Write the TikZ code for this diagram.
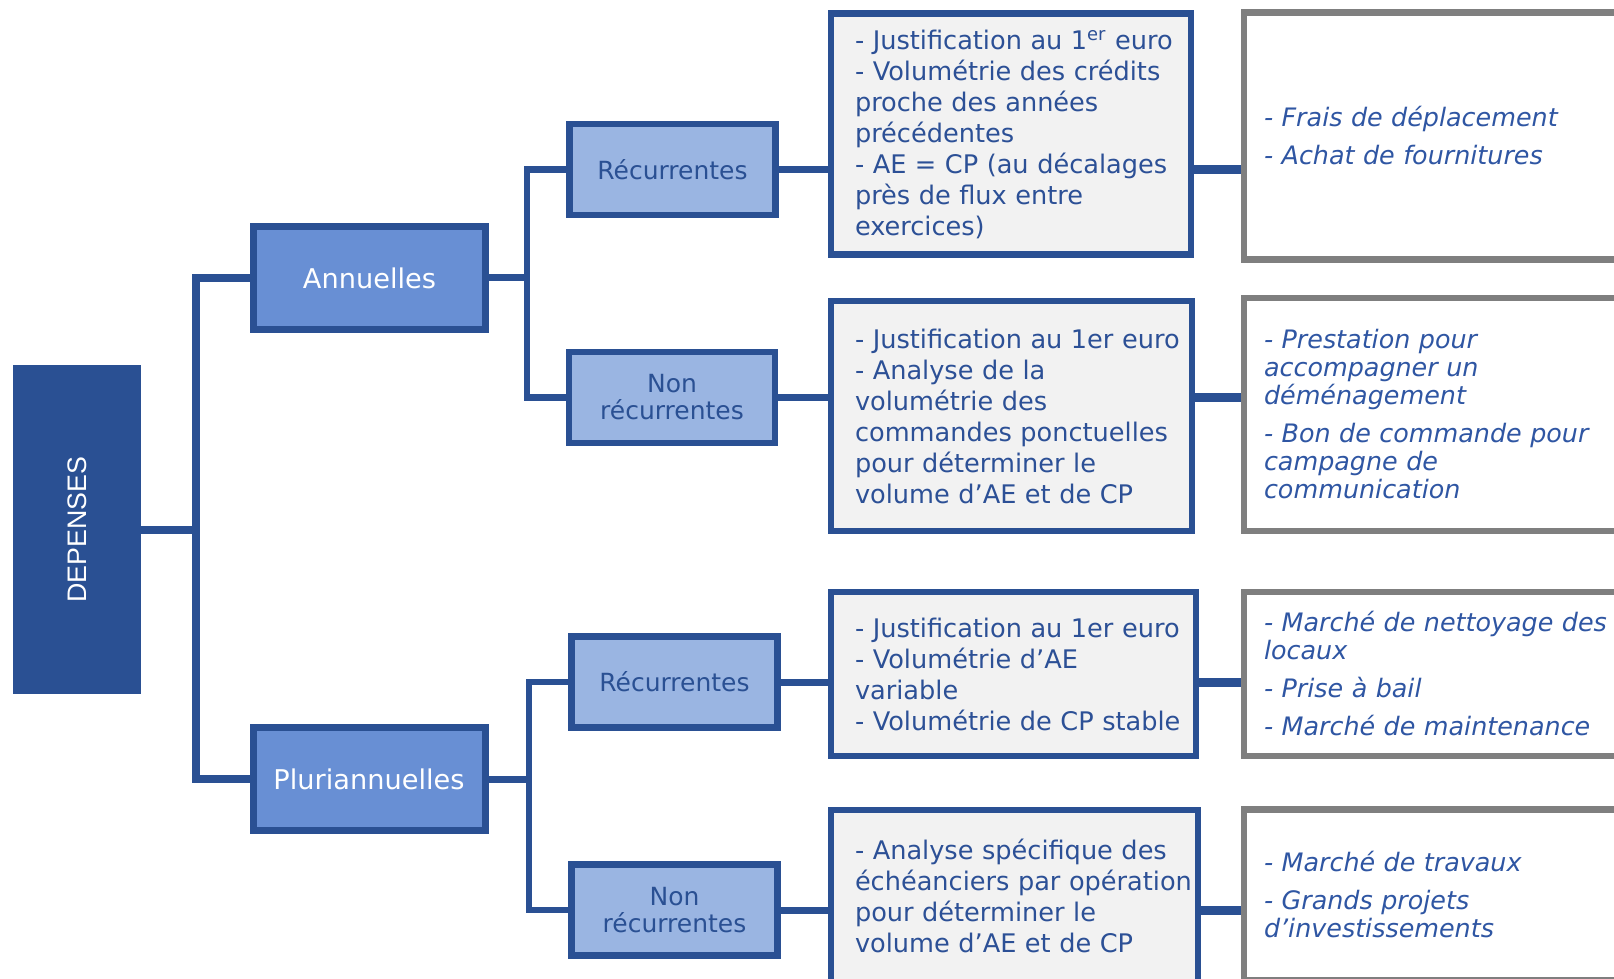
\documentclass[tikz,border=0pt]{standalone}
\usepackage{fontspec}
\usepackage{graphicx}
\usepackage{tikz}
\setmainfont{DejaVu Sans}
\newfontfamily\titrefont{Liberation Sans}
\definecolor{bleu}{RGB}{42,80,147}
\definecolor{bleumoyen}{RGB}{104,143,212}
\definecolor{bleuclair}{RGB}{154,181,226}
\definecolor{fondgris}{RGB}{242,242,242}
\definecolor{gris}{RGB}{127,127,127}
\definecolor{bleutexte}{RGB}{44,80,150}
\definecolor{bleuex}{RGB}{47,86,163}

\begin{document}
\begin{tikzpicture}[x=0.5pt,y=-0.5pt]
	\tikzstyle{racine}=[rectangle,fill=bleu,minimum width=64pt,minimum height=164.5pt,inner sep=0pt,text=white,font=\titrefont\fontsize{13.4}{16}\selectfont]
	\tikzstyle{duree}=[rectangle,draw=bleu,line width=3.5pt,fill=bleumoyen,minimum width=116pt,minimum height=51.5pt,text=white,font=\fontsize{13.6}{16}\selectfont]
	\tikzstyle{nature}=[rectangle,draw=bleu,line width=3.4pt,fill=bleuclair,minimum width=103pt,minimum height=45.5pt,text=bleu,align=center,font=\fontsize{12.5}{13.5}\selectfont]
	\tikzstyle{regle}=[rectangle,draw=bleu,line width=3.3pt,fill=fondgris,inner xsep=0pt,text=bleutexte,align=left,font=\fontsize{12.8}{15.5}\selectfont,execute at begin node={\leftskip=12pt}]
	\tikzstyle{exemple}=[rectangle,draw=gris,line width=3.3pt,fill=white,inner xsep=10pt,text width=190pt,align=left,text=bleuex,font=\fontsize{12.7}{14}\selectfont\itshape]
	\tikzstyle{lien}=[draw=bleu,line width=3.5pt]

	\useasboundingbox (0,0) rectangle (1614,979);

	\node [racine] (dep) at (77,529.5) {\rotatebox{90}{DEPENSES}};
	\node [duree] (ann) at (369.5,278) {Annuelles};
	\node [duree] (plu) at (369,779) {Pluriannuelles};

	\node [nature] (ra) at (672.5,169.5) {Récurrentes};
	\node [nature] (na) at (672,397.5) {Non\\récurrentes};
	\node [nature] (rp) at (674.5,682) {Récurrentes};
	\node [nature] (np) at (674.5,910) {Non\\récurrentes};

	\node [regle,text width=180pt,minimum height=120.7pt] (da) at (1011,134) {- Justification au 1\textsuperscript{er} euro\\- Volumétrie des crédits\\proche des années\\précédentes\\- AE = CP (au décalages\\près de flux entre\\exercices)};
	\node [regle,text width=180.5pt,minimum height=115pt] (db) at (1011.5,416) {- Justification au 1er euro\\- Analyse de la\\volumétrie des\\commandes ponctuelles\\pour déterminer le\\volume d’AE et de CP};
	\node [regle,text width=182.5pt,minimum height=82pt] (dc) at (1013.5,674) {- Justification au 1er euro\\- Volumétrie d’AE\\variable\\- Volumétrie de CP stable};
	\node [regle,text width=183.5pt,minimum height=86pt] (dd) at (1014.5,896) {- Analyse spécifique des\\échéanciers par opération\\pour déterminer le\\volume d’AE et de CP};

	\node [exemple,minimum height=123.5pt] (ea) at (1454,136) {- Frais de déplacement\\[5pt]- Achat de fournitures};
	\node [exemple,minimum height=116.5pt] (eb) at (1454,414.5) {- Prestation pour\\accompagner un\\déménagement\\[5pt]- Bon de commande pour\\campagne de\\communication};
	\node [exemple,minimum height=82pt] (ec) at (1454,674) {- Marché de nettoyage des\\locaux\\[5pt]- Prise à bail\\[5pt]- Marché de maintenance};
	\node [exemple,minimum height=85.5pt] (ed) at (1454,895) {- Marché de travaux\\[5pt]- Grands projets\\d’investissements};

	\coordinate (t0) at (196,529.5);
	\coordinate (t1) at (527,278);
	\coordinate (t2) at (529,779);

	\draw [lien,line width=4pt] (dep) -- (t0);
	\draw [lien,line width=4pt] (ann.west) -| (t0) |- (plu.west);
	\draw [lien] (ann) -- (t1);
	\draw [lien,line width=3.2pt] (ra.west) -| (t1) |- (na.west);
	\draw [lien] (plu) -- (t2);
	\draw [lien,line width=3.2pt] (rp.west) -| (t2) |- (np.west);

	\draw [lien] (ra) -- (ra -| da.west);
	\draw [lien] (na) -- (na -| db.west);
	\draw [lien] (rp) -- (rp -| dc.west);
	\draw [lien] (np) -- (np -| dd.west);

	\draw [lien,line width=4.5pt] (ra -| da.east) -- (ra -| ea.west);
	\draw [lien,line width=4.5pt] (na -| db.east) -- (na -| eb.west);
	\draw [lien,line width=4.5pt] (rp -| dc.east) -- (rp -| ec.west);
	\draw [lien,line width=4.5pt] (np -| dd.east) -- (np -| ed.west);
\end{tikzpicture}
\end{document}
